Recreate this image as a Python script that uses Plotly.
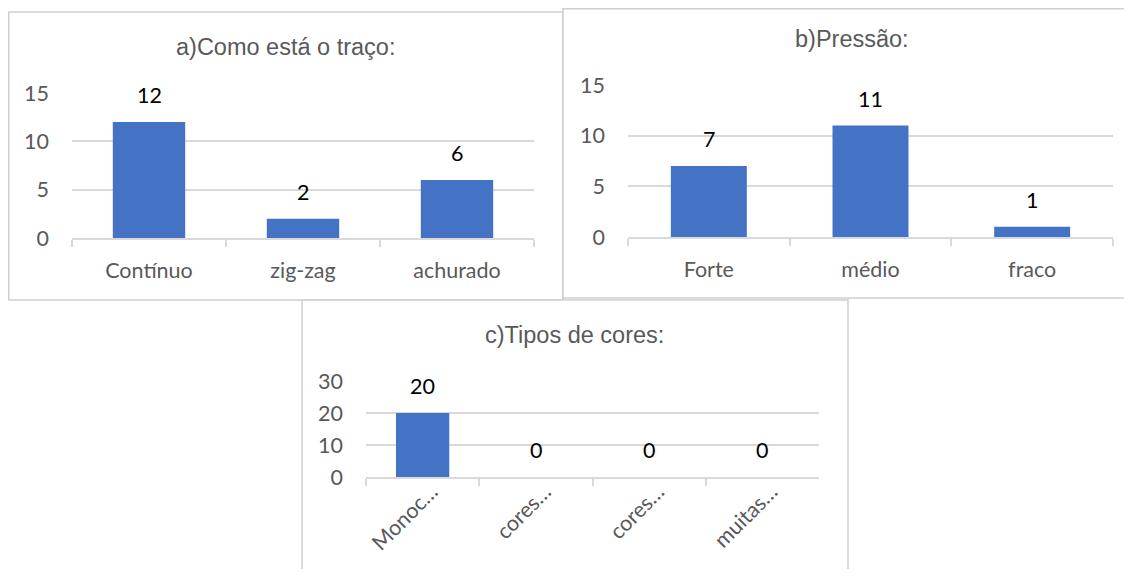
import plotly.graph_objects as go

# page is 1132x577; the default 8px body margin is accounted for
PAGE_W, PAGE_H = 1132, 577
OFF = 8
FW, FH = PAGE_W - 2 * OFF, PAGE_H - 2 * OFF

# ---- data ----
a_title = "a)Como está o traço:"
a_categories = ["Contínuo", "zig-zag", "achurado"]
a_values = [12, 2, 6]

b_title = "b)Pressão:"
b_categories = ["Forte", "médio", "fraco"]
b_values = [7, 11, 1]

c_title = "c)Tipos de cores:"
c_categories = ["Monocromático", "cores quentes", "cores frias", "muitas cores"]
c_tick_labels = ["Monoc…", "cores…", "cores…", "muitas…"]
c_values = [20, 0, 0, 0]

BAR = "#4472C4"
GRID = "#D9D9D9"
AXT = "#595959"
TICKFONT = dict(family="Lato", size=21.5, color=AXT)
LABELFONT = dict(family="Lato", size=21.5, color="black")
TITLEFONT = dict(family="Liberation Sans", size=23.5, color=AXT)


def px_x(x):
    return (x - OFF) / FW


def px_y(y):
    return 1 - (y - OFF) / FH


fig = go.Figure()

panels = [
    dict(ax="", cats=a_categories, vals=a_values, title=a_title,
         xd=(72, 534), yd=(238, 93), rng=[0, 15], dt=5, tx=285, ty=47,
         box=(8.8, 12, 563, 300), ticktext=None, angle=0, shift=0, stand=12),
    dict(ax="2", cats=b_categories, vals=b_values, title=b_title,
         xd=(628, 1113), yd=(237, 85), rng=[0, 15], dt=5, tx=852, ty=39,
         box=(563, 8.8, 1145, 298), ticktext=None, angle=0, shift=0, stand=12),
    dict(ax="3", cats=c_categories, vals=c_values, title=c_title,
         xd=(366, 819), yd=(477, 381), rng=[0, 30], dt=10, tx=574, ty=335,
         box=(302, 300, 848, 600), ticktext=c_tick_labels, angle=-45, shift=9, stand=-8),
]

shapes = []
annotations = []
for p in panels:
    ax = p["ax"]
    fig.add_trace(go.Bar(
        x=p["cats"], y=p["vals"], marker=dict(color=BAR, line=dict(width=0)),
        xaxis="x" + ax, yaxis="y" + ax, showlegend=False, hoverinfo="x+y",
    ))
    x0, y0, x1, y1 = p["box"]
    shapes.append(dict(type="rect", xref="paper", yref="paper", layer="below",
                       x0=px_x(x0), x1=px_x(x1), y0=px_y(y1), y1=px_y(y0),
                       line=dict(color="#D0D0D0", width=1.5), fillcolor="white"))
    annotations.append(dict(xref="paper", yref="paper", x=px_x(p["tx"]), y=px_y(p["ty"]),
                            text=p["title"], showarrow=False, font=TITLEFONT,
                            xanchor="center", yanchor="middle"))
    for c, v in zip(p["cats"], p["vals"]):
        annotations.append(dict(xref="x" + ax, yref="y" + ax, x=c, y=v, text=str(v),
                                showarrow=False, font=LABELFONT, yanchor="bottom",
                                xanchor="center", yshift=12))
    xa = dict(domain=[px_x(p["xd"][0]), px_x(p["xd"][1])], anchor="y" + ax,
              type="category", showgrid=False, showline=True, linecolor=GRID, linewidth=1.5,
              ticks="outside", tickson="boundaries", ticklen=7, tickcolor=GRID, tickwidth=1.5,
              tickfont=TICKFONT, tickangle=p["angle"], ticklabelstandoff=p["stand"],
              ticklabelshift=p["shift"], automargin=False, fixedrange=True)
    if p["ticktext"] is not None:
        xa["tickmode"] = "array"
        xa["tickvals"] = p["cats"]
        xa["ticktext"] = p["ticktext"]
    ya = dict(domain=[px_y(p["yd"][0]), px_y(p["yd"][1])], anchor="x" + ax,
              range=p["rng"], dtick=p["dt"], showgrid=True, gridcolor=GRID, gridwidth=1.5,
              zeroline=False, showline=False, ticks="", tickfont=TICKFONT,
              ticklabelstandoff=22, automargin=False, fixedrange=True)
    fig.layout["xaxis" + ax] = xa
    fig.layout["yaxis" + ax] = ya

fig.update_layout(
    width=FW, height=FH, autosize=False,
    margin=dict(l=0, r=0, t=0, b=0, pad=0),
    paper_bgcolor="white", plot_bgcolor="rgba(0,0,0,0)",
    bargap=0.53, shapes=shapes, annotations=annotations,
)

fig.write_html("out.html")
